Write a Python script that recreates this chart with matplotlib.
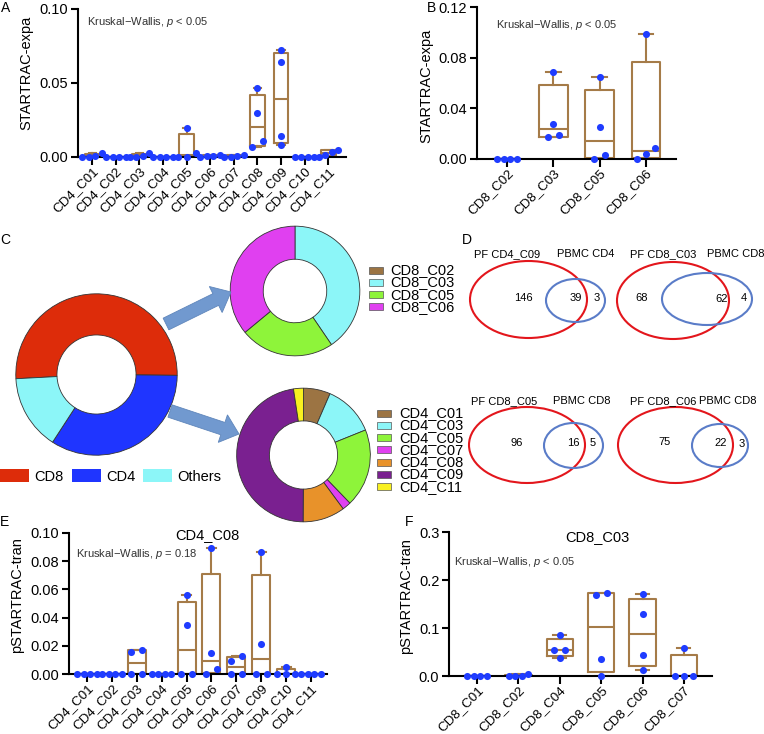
import numpy as np
import matplotlib
matplotlib.use("Agg")
import matplotlib.pyplot as plt
from matplotlib.patches import Ellipse, Rectangle, FancyArrow, Patch

plt.rcParams['font.family'] = ['Liberation Sans', 'DejaVu Sans']
plt.rcParams['mathtext.fontset'] = 'custom'
plt.rcParams['mathtext.rm'] = 'Liberation Sans'
plt.rcParams['mathtext.it'] = 'Liberation Sans:italic'

# ==================== data ====================
A_cats = ['CD4_C01', 'CD4_C02', 'CD4_C03', 'CD4_C04', 'CD4_C05', 'CD4_C06',
          'CD4_C07', 'CD4_C08', 'CD4_C09', 'CD4_C10', 'CD4_C11']
A_vals = [[0, 0.0025, 0.001, 0], [0, 0, 0, 0], [0, 0.0025, 0.001, 0], [0, 0, 0, 0],
          [0, 0, 0.0027, 0.0196], [0, 0.0015, 0.001, 0.0005], [0, 0.0015, 0.0005, 0],
          [0.0068, 0.0106, 0.030, 0.0463], [0.0079, 0.0142, 0.0643, 0.0722],
          [0, 0, 0, 0], [0, 0.0015, 0.0035, 0.005]]

B_cats = ['CD8_C02', 'CD8_C03', 'CD8_C05', 'CD8_C06']
B_vals = [[0, 0, 0, 0], [0.0173, 0.0191, 0.0275, 0.0689],
          [0, 0.0034, 0.0252, 0.0647], [0, 0.0039, 0.0086, 0.0988]]

E_cats = ['CD4_C01', 'CD4_C02', 'CD4_C03', 'CD4_C04', 'CD4_C05', 'CD4_C06',
          'CD4_C07', 'CD4_C09', 'CD4_C10', 'CD4_C11']
E_vals = [[0, 0, 0, 0], [0, 0, 0, 0], [0, 0, 0.0159, 0.0173], [0, 0, 0, 0],
          [0, 0, 0.0345, 0.0562], [0, 0.0038, 0.0152, 0.0895], [0, 0, 0.0093, 0.0131],
          [0, 0, 0.0214, 0.0862], [0, 0, 0, 0.0048], [0, 0, 0, 0]]

F_cats = ['CD8_C01', 'CD8_C02', 'CD8_C04', 'CD8_C05', 'CD8_C06', 'CD8_C07']
F_vals = [[0, 0, 0, 0], [0, 0.0035, 0, 0], [0.0375, 0.0535, 0.0535, 0.0847],
          [0, 0.0347, 0.1688, 0.1736], [0.0132, 0.0431, 0.1299, 0.1715], [0, 0, 0, 0.0583]]

major_labels = ['CD8', 'CD4', 'Others']
major_vals = [51, 34, 15]
cd8_labels = ['CD8_C02', 'CD8_C03', 'CD8_C05', 'CD8_C06']
cd8_vals = [0, 40.5, 23.5, 36]
cd4_labels = ['CD4_C01', 'CD4_C03', 'CD4_C05', 'CD4_C07', 'CD4_C08', 'CD4_C09', 'CD4_C11']
cd4_vals = [6.5, 12.4, 18.9, 2.1, 10.2, 47.5, 2.4]

venn_pf = ['PF CD4_C09', 'PF CD8_C03', 'PF CD8_C05', 'PF CD8_C06']
venn_pbmc = ['PBMC CD4', 'PBMC CD8', 'PBMC CD8', 'PBMC CD8']
venn_only_pf = [146, 68, 96, 75]
venn_shared = [39, 62, 16, 22]
venn_only_pbmc = [3, 4, 5, 3]

# ==================== styles ====================
W, H = 764, 734
BROWN = '#a57b48'
DOT = '#1f3cff'
major_cols = ['#dd2c0a', '#1f35ff', '#8cf6f8']
cd8_cols = ['#9c7443', '#8cf6f8', '#8ef43a', '#e040f0']
cd4_cols = ['#9c7443', '#8cf6f8', '#8ef43a', '#e040f0', '#e8922a', '#7a2090', '#f8f020']

fig = plt.figure(figsize=(W / 100, H / 100), dpi=100)


def px_axes(x0, y0, x1, y1):
    return fig.add_axes([x0 / W, 1 - y1 / H, (x1 - x0) / W, (y1 - y0) / H])


def swarm(v, thr, px_cat):
    v = np.asarray(v, dtype=float)
    order = np.argsort(v, kind='stable')
    sv = v[order]
    clusters = [[0]]
    for k in range(1, len(sv)):
        if sv[k] - sv[k - 1] < thr:
            clusters[-1].append(k)
        else:
            clusters.append([k])
    gap = {1: 0, 2: 11, 3: 9, 4: 6.5}
    off = np.zeros(len(v))
    for c in clusters:
        n = len(c)
        for j, k in enumerate(c):
            off[order[k]] = (j - (n - 1) / 2) * gap[n] / px_cat
    return off


def box_panel(ax, cats, vals, ylim, yticks, fmt, xlim, width, ylabel, lab_xy,
              kw_text, kw_xy, px_w):
    n = len(cats)
    stats = []
    for v in vals:
        v = np.asarray(v, dtype=float)
        q1, med, q3 = np.percentile(v, [25, 50, 75], method='weibull')
        stats.append(dict(med=med, q1=q1, q3=q3, whislo=v.min(), whishi=v.max(), fliers=[]))
    lp = dict(color=BROWN, linewidth=1.5)
    ax.bxp(stats, positions=np.arange(n), widths=width, capwidths=width * 0.5,
           showfliers=False, boxprops=lp, medianprops=lp, whiskerprops=lp, capprops=lp)
    px_cat = px_w / (xlim[1] - xlim[0])
    for i, v in enumerate(vals):
        off = swarm(v, 0.045 * ylim[1], px_cat)
        ax.scatter(i + off, v, s=26, color=DOT, zorder=4, clip_on=False, linewidths=0)
    ax.set_xlim(*xlim)
    ax.set_ylim(*ylim)
    ax.set_yticks(yticks)
    ax.set_yticklabels([fmt.format(t) for t in yticks], fontsize=10.5)
    ax.set_xticks(np.arange(n))
    ax.set_xticklabels(cats, fontsize=9.6, rotation=45, ha='right', va='top',
                       rotation_mode='anchor')
    for s in ['top', 'right']:
        ax.spines[s].set_visible(False)
    for s in ['left', 'bottom']:
        ax.spines[s].set_linewidth(1.5)
    ax.tick_params(axis='both', width=1.5, length=5, pad=2)
    ax.tick_params(axis='x', length=6, pad=0)
    ax.set_ylabel(ylabel, fontsize=10.5)
    ax.yaxis.set_label_coords(*lab_xy)
    ax.text(kw_xy[0], kw_xy[1], kw_text, transform=ax.transAxes, fontsize=8,
            color='#333333', va='center', ha='left')


# ==================== A ====================
axA = px_axes(78, 9, 346, 157)
box_panel(axA, A_cats, A_vals, (0, 0.10), [0, 0.05, 0.10], '{:.2f}', (-0.6, 10.75), 0.62,
          'STARTRAC-expa', (-0.168, 0.57), 'Kruskal\u2212Wallis, $p$ < 0.05',
          (0.035, 0.91), 268)

# ==================== B ====================
axB = px_axes(477, 7, 676, 159)
box_panel(axB, B_cats, B_vals, (0, 0.12), [0, 0.04, 0.08, 0.12], '{:.2f}', (-0.65, 3.65),
          0.62, 'STARTRAC-expa', (-0.22, 0.48), 'Kruskal\u2212Wallis, $p$ < 0.05',
          (0.095, 0.88), 199)

# ==================== E ====================
axE = px_axes(69, 533, 327, 674)
box_panel(axE, E_cats, E_vals, (0, 0.10), [0, 0.02, 0.04, 0.06, 0.08, 0.10], '{:.2f}',
          (-0.72, 9.64), 0.72, 'pSTARTRAC-tran', (-0.174, 0.56),
          'Kruskal\u2212Wallis, $p$ = 0.18', (0.027, 0.85), 258)
axE.text(0.535, 0.985, 'CD4_C08', transform=axE.transAxes, fontsize=10.5,
         ha='center', va='center')

# ==================== F ====================
axF = px_axes(449, 532, 712, 676)
box_panel(axF, F_cats, F_vals, (0, 0.3), [0, 0.1, 0.2, 0.3], '{:.1f}', (-0.68, 5.68),
          0.64, 'pSTARTRAC-tran', (-0.137, 0.555), 'Kruskal\u2212Wallis, $p$ < 0.05',
          (0.02, 0.79), 263)
axF.text(0.563, 0.965, 'CD8_C03', transform=axF.transAxes, fontsize=10.5,
         ha='center', va='center')

# ==================== C: donuts ====================
wp = dict(edgecolor='#333333', linewidth=0.6)


def donut(cx, cy, r, vals, cols, start, ccw, width):
    ax = px_axes(cx - r, cy - r, cx + r, cy + r)
    ax.pie(vals, colors=cols, startangle=start, counterclock=ccw, radius=1,
           wedgeprops=dict(width=width, **wp))
    ax.set_xlim(-1.01, 1.01)
    ax.set_ylim(-1.01, 1.01)
    ax.axis('off')
    return ax


donut(96.5, 374.5, 81.5, major_vals, major_cols, 183, False, 0.51)
donut(295, 291, 65.5, cd8_vals, cd8_cols, 90, False, 0.51)
donut(303.5, 455, 67.5, cd4_vals, cd4_cols, 90, False, 0.49)

fig.legend([Patch(facecolor=c, edgecolor='none') for c in major_cols], major_labels,
           loc='upper left', bbox_to_anchor=(0, 1 - 469 / H), ncol=3, frameon=False,
           fontsize=10.5, handlelength=2, handleheight=1, handletextpad=0.35,
           columnspacing=0.55, borderpad=0, borderaxespad=0)

# ==================== overlay (pixel coords) ====================
ov = fig.add_axes([0, 0, 1, 1])
ov.set_xlim(0, W)
ov.set_ylim(H, 0)
ov.axis('off')
ov.patch.set_visible(False)

# arrows
for (x0, y0, x1, y1) in [(166, 324, 231, 292), (170, 411, 239, 434)]:
    ov.add_patch(FancyArrow(x0, y0, x1 - x0, y1 - y0, width=13, head_width=29,
                            head_length=17, length_includes_head=True,
                            facecolor='#7199cf', edgecolor='#5f86bb', linewidth=0.6))

# right legends of donuts
for labels, cols, bx, tx, y0, dy in [(cd8_labels, cd8_cols, 369, 390, 270, 12.3),
                                     (cd4_labels, cd4_cols, 377, 399, 413, 12.3)]:
    for k, (lab, c) in enumerate(zip(labels, cols)):
        y = y0 + k * dy
        ov.add_patch(Rectangle((bx, y - 3.5), 14, 7, facecolor=c, edgecolor='#555555',
                               linewidth=0.5))
        ov.text(tx, y, lab, fontsize=10.5, va='center', ha='left')

# ==================== D: venns ====================
venn_geo = [
    dict(red=(528.5, 299.5, 117, 77), blue=(575.5, 300.5, 59, 43),
         n=[(523, 298), (576, 298), (597, 298)], t=[(507, 254), (586, 254)]),
    dict(red=(673, 300.5, 112, 77), blue=(707, 299, 90, 52),
         n=[(642, 298), (722, 299), (744, 298)], t=[(663, 254), (736, 254)]),
    dict(red=(527, 445, 116, 76), blue=(573.5, 445.5, 59, 45),
         n=[(517, 443), (573, 443), (593, 443)], t=[(504, 401), (582, 401)]),
    dict(red=(675.5, 445, 115, 76), blue=(720, 445.5, 56, 43),
         n=[(665, 442), (721, 443), (742, 444)], t=[(663, 401), (728, 401)]),
]
for k, g in enumerate(venn_geo):
    rx, ry, rw, rh = g['red']
    ov.add_patch(Ellipse((rx, ry), rw, rh, fill=False, edgecolor='#e3161c', linewidth=1.5))
    bx_, by_, bw, bh = g['blue']
    ov.add_patch(Ellipse((bx_, by_), bw, bh, fill=False, edgecolor='#5a7cc8', linewidth=1.5))
    for (x, y), val in zip(g['n'], [venn_only_pf[k], venn_shared[k], venn_only_pbmc[k]]):
        ov.text(x, y, str(val), fontsize=8, ha='center', va='center')
    ov.text(*g['t'][0], venn_pf[k], fontsize=8, ha='center', va='center')
    ov.text(*g['t'][1], venn_pbmc[k], fontsize=8, ha='center', va='center')

# panel letters
for lab, x, y in [('A', 1, 8), ('B', 427, 8), ('C', 0, 240), ('D', 462, 240),
                  ('E', 0, 522), ('F', 405, 522)]:
    ov.text(x, y, lab, fontsize=10, ha='left', va='center')

fig.savefig('out.png', dpi=100)
